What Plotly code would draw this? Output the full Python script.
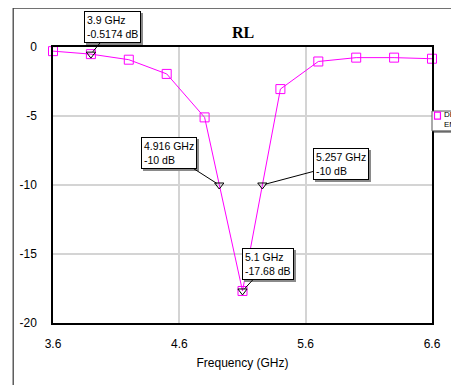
import plotly.graph_objects as go

freq = [3.6, 3.9, 4.2, 4.5, 4.8, 5.1, 5.4, 5.7, 6.0, 6.3, 6.6]
rl_db = [-0.3, -0.5174, -0.92, -1.95, -5.1, -17.68, -3.05, -1.05, -0.77, -0.77, -0.85]

mk_freq = [3.9, 4.916, 5.257, 5.1]
mk_db = [-0.5174, -10, -10, -17.68]
mk_text = ["3.9 GHz<br>-0.5174 dB", "4.916 GHz<br>-10 dB", "5.257 GHz<br>-10 dB", "5.1 GHz<br>-17.68 dB"]
mk_off = [(22, -27), (-50, -32), (79, -21), (25, -27)]

x_ticks = [3.6, 4.6, 5.6, 6.6]
y_ticks = [0, -5, -10, -15, -20]

MAG = "#FF00FF"
FONT = "Liberation Sans, Arial, sans-serif"

fig = go.Figure()
fig.add_trace(go.Scatter(
    x=freq, y=rl_db, mode="lines+markers",
    line=dict(color=MAG, width=1),
    marker=dict(symbol="square-open", size=9, color=MAG, line=dict(width=1, color=MAG)),
    showlegend=False, cliponaxis=False,
))
fig.add_trace(go.Scatter(
    x=mk_freq, y=mk_db, mode="markers",
    marker=dict(symbol="triangle-down-open", size=8, color="black", line=dict(width=1, color="black")),
    showlegend=False, cliponaxis=False,
))

anns = []
for fx, fy, t, (ax, ay) in zip(mk_freq, mk_db, mk_text, mk_off):
    # shadow
    anns.append(dict(x=fx, y=fy, xref="x", yref="y", text=t, showarrow=True, arrowwidth=0.1,
                     arrowcolor="rgba(0,0,0,0)", ax=ax, ay=ay, xshift=2, yshift=-2,
                     font=dict(family=FONT, size=10.5, color="#8a8a8a"), align="left",
                     bgcolor="#8a8a8a", bordercolor="#8a8a8a", borderwidth=1, borderpad=2))
    anns.append(dict(x=fx, y=fy, xref="x", yref="y", text=t, showarrow=True, arrowhead=0,
                     arrowwidth=1, arrowcolor="black", ax=ax, ay=ay, standoff=3,
                     font=dict(family=FONT, size=10.5, color="black"), align="left",
                     bgcolor="white", bordercolor="black", borderwidth=1, borderpad=2))

anns.append(dict(x=0.501, y=1.051, xref="paper", yref="paper", yanchor="middle",
                 text="<b>RL</b>", showarrow=False,
                 font=dict(family="Liberation Serif, Times New Roman, serif", size=16, color="black")))

# legend (partially clipped by the window edge, as in the reference)
anns.append(dict(x=1.026, y=0.737, xref="paper", yref="paper", xanchor="left", yanchor="middle",
                 text="DB(|S(1,1)|)<br>EMC Simulator", showarrow=False, align="left",
                 font=dict(family=FONT, size=8, color="black")))

shapes = [
    # outer frame
    dict(type="rect", xref="paper", yref="paper", x0=-0.105, x1=1.060, y0=-0.3, y1=1.141,
         line=dict(color="#444444", width=1.3), layer="below"),
    dict(type="line", xref="paper", yref="paper", x0=1.066, x1=1.066, y0=-0.3, y1=1.135,
         line=dict(color="#9a9a9a", width=1)),
    # legend box shadow + box
    dict(type="rect", xref="paper", yref="paper", x0=1.005, x1=1.25, y0=0.689, y1=0.761,
         line=dict(width=0), fillcolor="#777777"),
    dict(type="rect", xref="paper", yref="paper", x0=1.0, x1=1.25, y0=0.696, y1=0.768,
         line=dict(color="#555555", width=1), fillcolor="white"),
    dict(type="rect", xref="paper", yref="paper", x0=1.0066, x1=1.0223, y0=0.739, y1=0.764,
         line=dict(color=MAG, width=1.2), fillcolor="rgba(0,0,0,0)"),
]

fig.update_layout(
    width=451, height=377,
    margin=dict(l=43, r=27, t=39, b=62),
    paper_bgcolor="white", plot_bgcolor="white",
    font=dict(family=FONT, size=12, color="black"),
    annotations=anns, shapes=shapes,
)
fig.update_xaxes(
    range=[3.6, 6.6], tickvals=x_ticks, ticktext=[str(v) for v in x_ticks],
    showgrid=True, gridcolor="#d4d4d4", gridwidth=1.5, zeroline=False,
    showline=True, linecolor="black", linewidth=1.5, mirror=True,
    ticks="", ticklabelstandoff=9,
    title=dict(text="Frequency (GHz)", font=dict(size=12), standoff=8),
)
fig.update_yaxes(
    range=[-20, 0], tickvals=y_ticks, ticktext=[str(v) for v in y_ticks],
    showgrid=True, gridcolor="#d4d4d4", gridwidth=1.5, zeroline=False,
    showline=True, linecolor="black", linewidth=1.5, mirror=True,
    ticks="", ticklabelstandoff=12,
)

fig.write_html("out.html")
